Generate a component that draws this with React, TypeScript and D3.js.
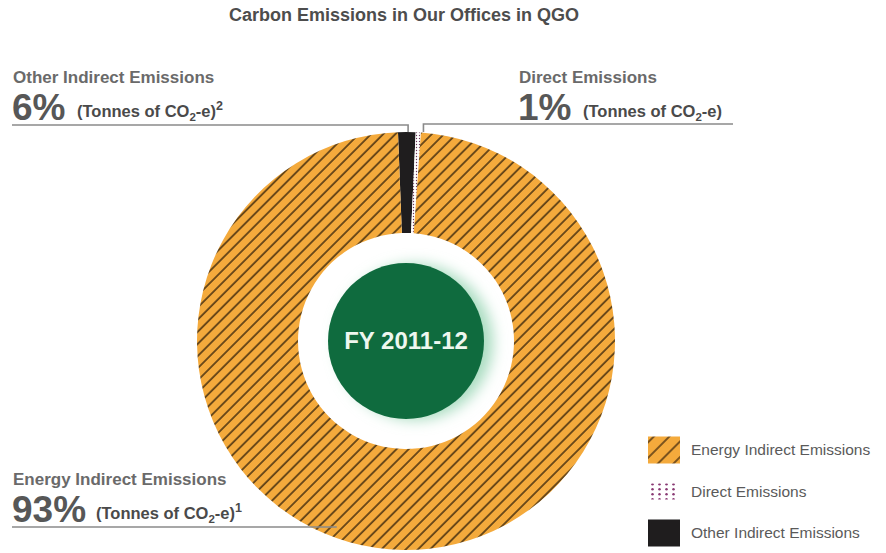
import React from 'react';
import * as d3 from 'd3';

// slices, in clockwise order from the top
const categories = ['Other Indirect Emissions', 'Direct Emissions', 'Energy Indirect Emissions'];
// label percentages printed on the chart
const labelPct = [6, 1, 93];
// wedge widths as drawn (share of the ring, %)
const drawnShare = [1.35, 0.4, 98.25];
const footnotes = ['2', '', '1'];
const legendOrder = ['Energy Indirect Emissions', 'Direct Emissions', 'Other Indirect Emissions'];
const centerLabel = 'FY 2011-12';
const title = 'Carbon Emissions in Our Offices in QGO';

const W = 886;
const H = 553;
const cx = 406;
const cy = 341;
const outerR = 209;
const innerR = 108;
const discR = 78;

const fills: Record<string, string> = {
  'Energy Indirect Emissions': 'url(#hatch)',
  'Direct Emissions': 'url(#dots)',
  'Other Indirect Emissions': '#1f1d1e',
};

const FONT = '"Liberation Sans", Arial, sans-serif';

function Tonnes({ x, y, sup }: { x: number; y: number; sup: string }) {
  return (
    <text x={x} y={y} fontFamily={FONT} fontSize={16.5} fontWeight="bold" fill="#4a4a4a">
      (Tonnes of CO
      <tspan fontSize={11.5} dy={4}>2</tspan>
      <tspan dy={-4}>-e)</tspan>
      {sup && (
        <tspan fontSize={12.5} dy={-7}>
          {sup}
        </tspan>
      )}
    </text>
  );
}

function Label({ x, y, i }: { x: number; y: number; i: number }) {
  // y is the baseline of the big percentage
  const pctText = `${labelPct[i]}%`;
  const pctW = pctText.length === 2 ? 60 : 79;
  return (
    <g>
      <text x={x + 1} y={y - 37} fontFamily={FONT} fontSize={17} fontWeight="bold" fill="#6a6a6a">
        {categories[i]}
      </text>
      <text x={x} y={y} fontFamily={FONT} fontSize={37} fontWeight="bold" fill="#575757">
        {pctText}
      </text>
      <Tonnes x={x + pctW + 5} y={y - 3} sup={footnotes[i]} />
    </g>
  );
}

export default function App() {
  const startAngle = (-2.2 * Math.PI) / 180;
  const pie = d3
    .pie<number>()
    .sort(null)
    .value((d) => d)
    .startAngle(startAngle)
    .endAngle(startAngle + Math.PI * 2);
  const arcs = pie(drawnShare);
  const arc = d3.arc<d3.PieArcDatum<number>>().innerRadius(innerR).outerRadius(outerR);

  const pt = (a: number, r: number) => [cx + r * Math.sin(a), cy - r * Math.cos(a)];

  // leader anchor points on the ring
  const other = arcs[0];
  const direct = arcs[1];
  const energy = arcs[2];
  const otherX = pt((other.startAngle + other.endAngle) / 2 + 0.006, outerR)[0];
  const directX = pt(direct.endAngle + 0.012, outerR)[0];
  const ringTop = cy - outerR;
  const energyPt = pt(energy.startAngle + (energy.endAngle - energy.startAngle) * 0.555, outerR * 0.95);

  const legendY = d3.scalePoint<string>().domain(legendOrder).range([450, 533]);

  return (
    <svg
      width={W}
      height={H}
      viewBox={`0 0 ${W} ${H}`}
      style={{ position: 'fixed', left: 0, top: 0, background: '#fff' }}
    >
      <defs>
        <pattern
          id="hatch"
          patternUnits="userSpaceOnUse"
          width={8.6}
          height={8.6}
          patternTransform="rotate(45)"
        >
          <rect width={8.6} height={8.6} fill="#f4aa3c" />
          <line x1={1} y1={0} x2={1} y2={8.6} stroke="#4f3512" strokeWidth={1.6} />
        </pattern>
        <pattern id="hatchLegend" patternUnits="userSpaceOnUse" width={11} height={11} patternTransform="rotate(45)">
          <rect width={11} height={11} fill="#f4aa3c" />
          <line x1={1} y1={0} x2={1} y2={11} stroke="#5b3c15" strokeWidth={1.6} />
        </pattern>
        <pattern id="dots" patternUnits="userSpaceOnUse" width={3} height={3}>
          <rect width={3} height={3} fill="#ffffff" />
          <circle cx={1.5} cy={1.5} r={0.7} fill="#6b3558" />
        </pattern>
        <pattern id="dotsLegend" patternUnits="userSpaceOnUse" x={650} y={482} width={7} height={5}>
          <rect width={7} height={5} fill="#ffffff" />
          <circle cx={2.5} cy={2.2} r={1.25} fill="#8a3a74" />
        </pattern>
        <filter id="glow" x="-50%" y="-50%" width="200%" height="200%">
          <feGaussianBlur stdDeviation={7} />
        </filter>
      </defs>

      <text
        x={404}
        y={21}
        textAnchor="middle"
        fontFamily={FONT}
        fontSize={18}
        fontWeight="bold"
        fill="#4d4d4d"
      >
        {title}
      </text>

      {/* ring */}
      <g transform={`translate(${cx},${cy})`}>
        {arcs.map((a, i) => (
          <path key={categories[i]} d={arc(a) || ''} fill={fills[categories[i]]} />
        ))}
      </g>

      {/* centre disc with light glow on the right */}
      <circle cx={cx + 9} cy={cy + 1} r={discR} fill="#a9dcc0" filter="url(#glow)" />
      <circle cx={cx} cy={cy} r={discR} fill="#0f6b3e" />
      <text
        x={cx}
        y={cy + 8}
        textAnchor="middle"
        fontFamily={FONT}
        fontSize={24}
        fontWeight="bold"
        fill="#eef7ef"
      >
        {centerLabel}
      </text>

      {/* leader lines */}
      <polyline
        points={`12,125 ${otherX},125 ${otherX},${ringTop}`}
        fill="none"
        stroke="#8a8a8a"
        strokeWidth={1.6}
      />
      <polyline
        points={`${directX},${ringTop} ${directX},124 733,124`}
        fill="none"
        stroke="#8a8a8a"
        strokeWidth={1.6}
      />
      <polyline points={`12,527 ${energyPt[0]},527`} fill="none" stroke="#8a8a8a" strokeWidth={1.6} />

      {/* labels */}
      <Label x={12} y={120} i={0} />
      <Label x={518} y={120} i={1} />
      <Label x={12} y={522} i={2} />

      {/* legend */}
      {legendOrder.map((name) => {
        const y = legendY(name) as number;
        const fill =
          name === 'Energy Indirect Emissions'
            ? 'url(#hatchLegend)'
            : name === 'Direct Emissions'
            ? 'url(#dotsLegend)'
            : fills[name];
        const h = name === 'Direct Emissions' ? 16 : 27;
        const w = name === 'Direct Emissions' ? 27 : 32;
        return (
          <g key={name}>
            <rect x={648} y={y - h / 2} width={w} height={h} fill={fill} />
            <text x={691} y={y + 5} fontFamily={FONT} fontSize={15.5} fill="#5a5a5a">
              {name}
            </text>
          </g>
        );
      })}
    </svg>
  );
}
